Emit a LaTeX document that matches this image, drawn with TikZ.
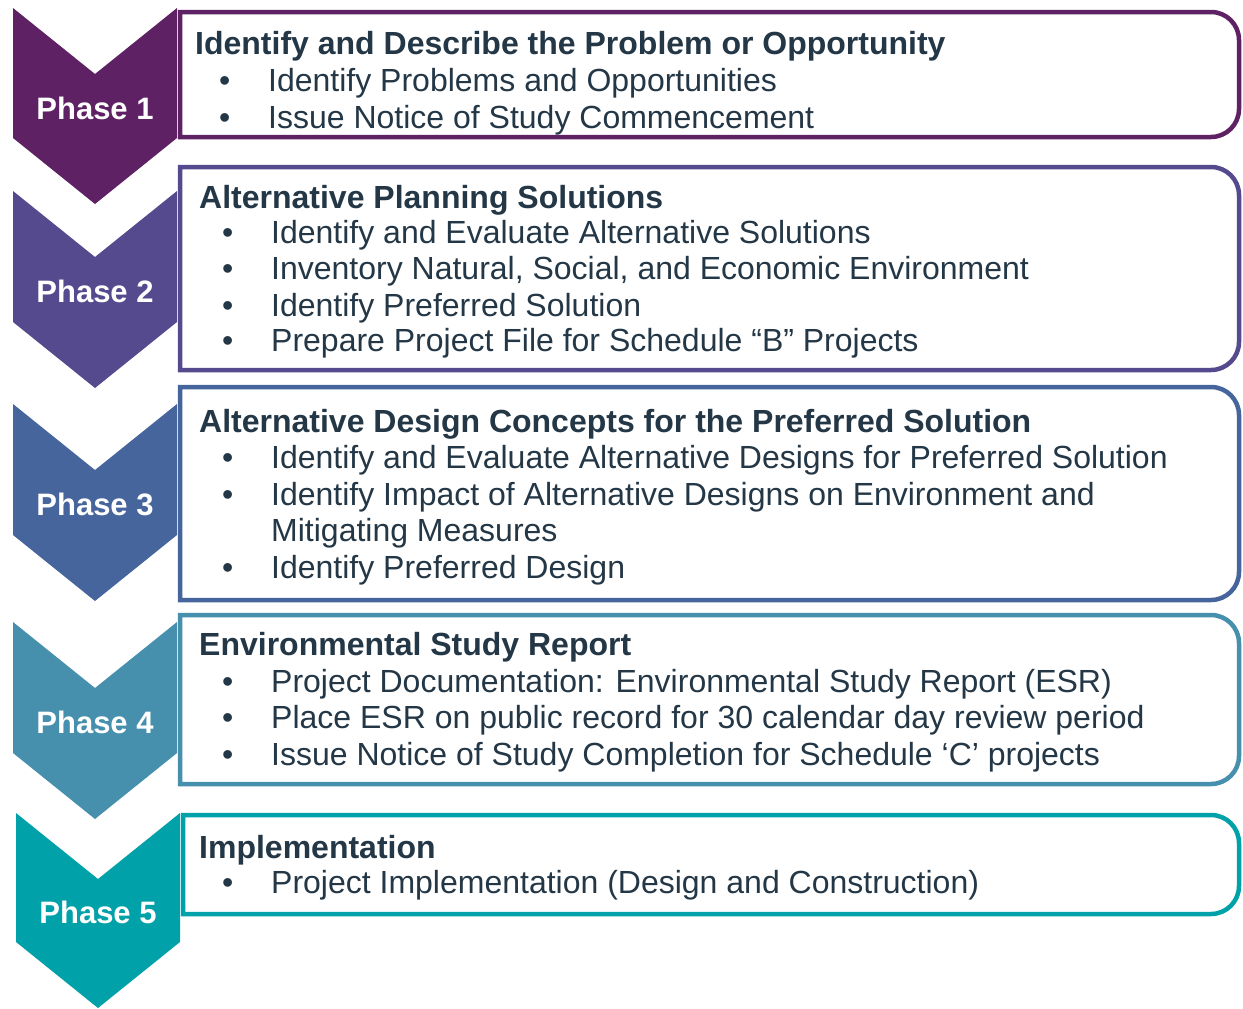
\documentclass[tikz,border=0pt]{standalone}
\usepackage{fontspec}
\setmainfont{Liberation Sans}
\definecolor{ph1}{HTML}{5E2163}
\definecolor{ph2}{HTML}{554A8E}
\definecolor{ph3}{HTML}{46659C}
\definecolor{ph4}{HTML}{468FAD}
\definecolor{ph5}{HTML}{00A1A8}
\definecolor{ink}{HTML}{243746}
\newcommand{\bul}{\makebox[49pt][l]{•}}

\begin{document}
\begin{tikzpicture}[x=1pt, y=-1pt,
    phase/.style = {anchor=base, inner sep=0pt, text=white, font=\fontsize{31}{31}\selectfont\bfseries},
    head/.style = {anchor=base west, inner sep=0pt, text=ink, font=\fontsize{32}{36}\selectfont\bfseries},
    item/.style = {anchor=base west, inner sep=0pt, text=ink, font=\fontsize{32}{36}\selectfont},
    box/.style = {line width=4.5pt, fill=white}]
    \useasboundingbox (0,0) rectangle (1243,1009);
    % chevrons
    \foreach \n/\x/\t/\b/\l in {1/13/8/138/119, 2/13/191/322/302, 3/13/404/535/515, 4/13/622/753/733, 5/16/813/942/923}{
        \fill[fill=ph\n] (\x,\t) -- ++(82,66) -- ++(82,-66) -- (\x+164,\b) -- ++(-82,66) -- ++(-82,-66) -- cycle;
        \node[phase] (p\n) at (\x+82,\l) {Phase \n};
    }
    % boxes
    \foreach \n/\x/\t/\b in {1/180/12/137, 2/180/167/370, 3/180/387/600, 4/180/615/784, 5/183/815/914}
        \draw[box, draw=ph\n] (\x,\t) -- (1211,\t) arc[start angle=-90, end angle=0, radius=28] -- (1239,\b-28) arc[start angle=0, end angle=90, radius=28] -- (\x,\b) -- cycle;
    % phase 1
    \node[head] (h1) at (195,54) {Identify and Describe the Problem or Opportunity};
    \node[item] (i1a) at (219,91) {\bul Identify Problems and Opportunities};
    \node[item] (i1b) at (219,128) {\bul Issue Notice of Study Commencement};
    % phase 2
    \node[head] (h2) at (199,208) {Alternative Planning Solutions};
    \node[item] (i2a) at (222,243) {\bul Identify and Evaluate Alternative Solutions};
    \node[item] (i2b) at (222,279) {\bul Inventory Natural, Social, and Economic Environment};
    \node[item] (i2c) at (222,316) {\bul Identify Preferred Solution};
    \node[item] (i2d) at (222,351) {\bul Prepare Project File for Schedule “B” Projects};
    % phase 3
    \node[head] (h3) at (199,432) {Alternative Design Concepts for the Preferred Solution};
    \node[item] (i3a) at (222,468) {\bul Identify and Evaluate Alternative Designs for Preferred Solution};
    \node[item] (i3b) at (222,505) {\bul Identify Impact of Alternative Designs on Environment and};
    \node[item] (i3c) at (271,541) {Mitigating Measures};
    \node[item] (i3d) at (222,578) {\bul Identify Preferred Design};
    % phase 4
    \node[head] (h4) at (199,655) {Environmental Study Report};
    \node[item] (i4a) at (222,692) {\bul Project Documentation: Environmental Study Report (ESR)};
    \node[item] (i4b) at (222,728) {\bul Place ESR on public record for 30 calendar day review period};
    \node[item] (i4c) at (222,765) {\bul Issue Notice of Study Completion for Schedule ‘C’ projects};
    % phase 5
    \node[head] (h5) at (199,858) {Implementation};
    \node[item] (i5a) at (222,893) {\bul Project Implementation (Design and Construction)};
\end{tikzpicture}
\end{document}
